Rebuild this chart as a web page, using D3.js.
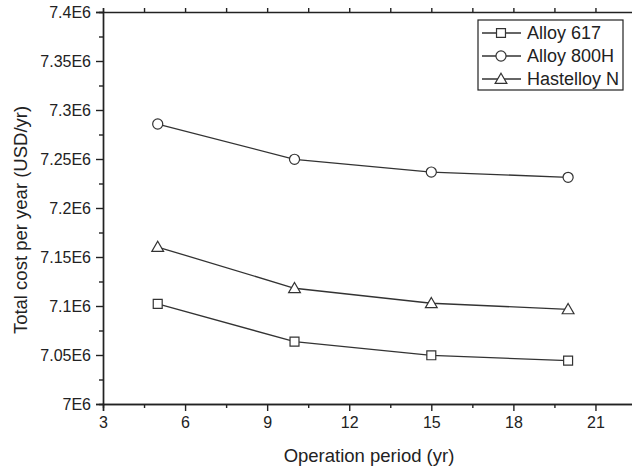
<!DOCTYPE html>
<html>
<head>
<meta charset="utf-8">
<script src="https://cdn.jsdelivr.net/npm/d3@7"></script>
<style>
  body { margin: 0; background: #fff; }
  text { font-family: "Liberation Sans", Arial, sans-serif; fill: #222; }
</style>
</head>
<body>
<div id="main"></div>
<script>
// data
const periods = [5, 10, 15, 20];
const seriesNames = ["Alloy 617", "Alloy 800H", "Hastelloy N"];
const alloy617 = [7.1022e6, 7.0636e6, 7.0497e6, 7.0442e6];
const alloy800H = [7.2857e6, 7.2497e6, 7.2367e6, 7.2313e6];
const hastelloyN = [7.1602e6, 7.1181e6, 7.1028e6, 7.0966e6];
const xTicks = [3, 6, 9, 12, 15, 18, 21];
const yTicks = [7.0e6, 7.05e6, 7.1e6, 7.15e6, 7.2e6, 7.25e6, 7.3e6, 7.35e6, 7.4e6];

function main() {
  const svgWidth = 632;
  const svgHeight = 471;
  const left = 103, right = 636.5, top = 12, bottom = 404;
  const ink = "#222";

  var svg = d3.select("#main")
    .append("svg")
    .attr("width", svgWidth)
    .attr("height", svgHeight);

  var scaleX = d3.scaleLinear().domain([3, 22.5]).range([left, right]);
  var scaleY = d3.scaleLinear().domain([7.0e6, 7.4e6]).range([bottom, top]);

  // minor ticks halfway between majors
  const xMinor = d3.range(4.5, 22.5, 3);
  const yMinor = d3.range(7.025e6, 7.4e6, 0.05e6);

  const fmtY = d => +(d / 1e6).toFixed(2) + "E6";

  // ------------  AXES  ------------
  svg.append("g")
    .attr("transform", "translate(0," + bottom + ")")
    .call(d3.axisBottom(scaleX).tickValues(xTicks).tickSize(7).tickPadding(6).tickFormat(d3.format("d")));
  svg.append("g")
    .attr("transform", "translate(0," + bottom + ")")
    .call(d3.axisBottom(scaleX).tickValues(xMinor).tickSize(4).tickFormat(""));

  svg.append("g")
    .attr("transform", "translate(0," + top + ")")
    .call(d3.axisTop(scaleX).tickValues(xTicks.concat(xMinor)).tickSize(4).tickFormat(""));

  svg.append("g")
    .attr("transform", "translate(" + left + ",0)")
    .call(d3.axisLeft(scaleY).tickValues(yTicks).tickSize(7).tickPadding(5).tickFormat(fmtY));
  svg.append("g")
    .attr("transform", "translate(" + left + ",0)")
    .call(d3.axisLeft(scaleY).tickValues(yMinor).tickSize(4).tickFormat(""));

  svg.selectAll(".domain").attr("stroke", ink).attr("stroke-width", 1.4);
  svg.selectAll(".tick line").attr("stroke", ink).attr("stroke-width", 1.4);
  svg.selectAll(".tick text").attr("font-size", 16).attr("fill", ink)
    .attr("font-family", "'Liberation Sans', Arial, sans-serif");

  // right frame edge (mostly off-canvas)
  svg.append("line")
    .attr("x1", right).attr("x2", right)
    .attr("y1", top).attr("y2", bottom)
    .attr("stroke", ink).attr("stroke-width", 1.4);

  // ------------  LABELS  ------------
  svg.append("text")
    .text("Operation period (yr)")
    .attr("text-anchor", "middle")
    .attr("font-size", 18.5)
    .attr("x", 369)
    .attr("y", 462);

  svg.append("text")
    .text("Total cost per year (USD/yr)")
    .attr("text-anchor", "middle")
    .attr("font-size", 18.5)
    .attr("transform", "translate(27,220) rotate(-90)");

  // ------------  SERIES  ------------
  const allSeries = [alloy617, alloy800H, hastelloyN];
  const symbols = [d3.symbolSquare, d3.symbolCircle, d3.symbolTriangle];
  const symSizes = [80, 80, 60];

  var line = d3.line()
    .x((d, i) => scaleX(periods[i]))
    .y(d => scaleY(d));

  allSeries.forEach((vals, s) => {
    svg.append("path")
      .datum(vals)
      .attr("d", line)
      .attr("fill", "none")
      .attr("stroke", "#333")
      .attr("stroke-width", 1.3);

    svg.append("g")
      .selectAll("path")
      .data(vals)
      .enter()
      .append("path")
      .attr("d", d3.symbol().type(symbols[s]).size(symSizes[s]))
      .attr("transform", (d, i) => "translate(" + scaleX(periods[i]) + "," + (scaleY(d) + (s == 2 ? 1 : 0)) + ")")
      .attr("fill", "#fff")
      .attr("stroke", "#333")
      .attr("stroke-width", 1.2);
  });

  // ------------  LEGEND  ------------
  const legX = 478, legY = 20, legW = 145, legH = 70, rowH = 23;
  var legend = svg.append("g");
  legend.append("rect")
    .attr("x", legX).attr("y", legY)
    .attr("width", legW).attr("height", legH)
    .attr("fill", "#fff")
    .attr("stroke", ink).attr("stroke-width", 1.2);

  var rows = legend.selectAll("g.row")
    .data(seriesNames)
    .enter()
    .append("g")
    .attr("class", "row")
    .attr("transform", (d, i) => "translate(0," + (legY + 13 + rowH * i) + ")");

  rows.append("line")
    .attr("x1", 482).attr("x2", 521)
    .attr("stroke", "#333").attr("stroke-width", 1.3);
  rows.append("path")
    .attr("d", (d, i) => d3.symbol().type(symbols[i]).size(symSizes[i])())
    .attr("transform", (d, i) => "translate(501," + (i == 2 ? 1 : 0) + ")")
    .attr("fill", "#fff")
    .attr("stroke", "#333")
    .attr("stroke-width", 1.2);
  rows.append("text")
    .text(d => d)
    .attr("x", 527)
    .attr("y", 0)
    .attr("dy", "0.35em")
    .attr("font-size", 18);
}
main();
</script>
</body>
</html>
